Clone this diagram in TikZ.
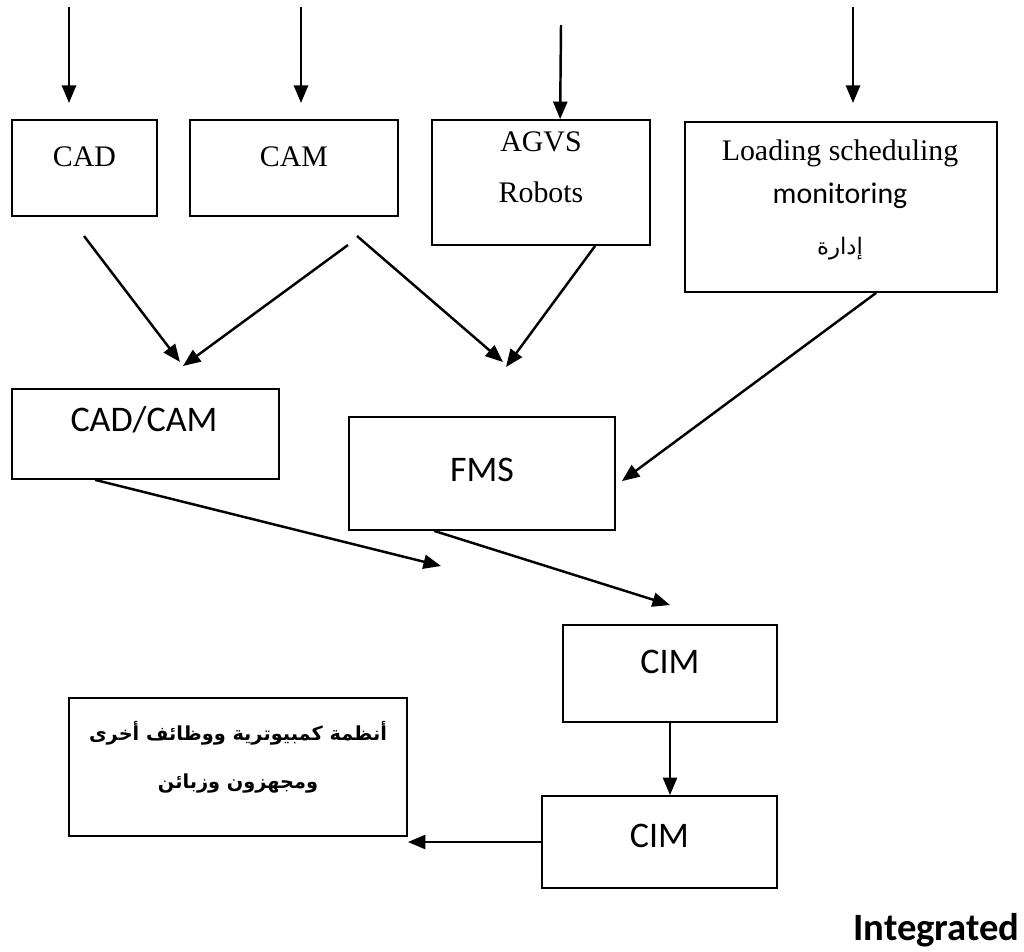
\documentclass[tikz,border=0pt]{standalone}
\usepackage{fontspec}
\setmainfont{Liberation Serif}
\newfontfamily\calfont{Carlito}
\newfontfamily\arabicfont[Script=Arabic]{DejaVu Sans}
\TeXXeTstate=1
\usetikzlibrary{arrows.meta,calc}
\begin{document}
\begin{tikzpicture}[x=0.02cm,y=-0.02cm,
  box/.style={draw, line width=1pt, inner sep=0pt},
  arr/.style={line width=1.4pt, -{Triangle[length=10pt,width=8pt]}},
  tm/.style={font=\fontsize{17}{20}\selectfont, inner sep=0pt},
  cb/.style={font=\calfont\fontsize{20.5}{24}\selectfont, inner sep=0pt},
  ar/.style={font=\arabicfont\bfseries\fontsize{11}{14}\selectfont, inner sep=0pt}]
\useasboundingbox (0,0) rectangle (1024,951);
% boxes
\node[box, minimum width=145*0.02cm, minimum height=96*0.02cm] (cad) at (84.5,168) {};
\node[box, minimum width=208*0.02cm, minimum height=96*0.02cm] (cam) at (294,168) {};
\node[box, minimum width=218*0.02cm, minimum height=125*0.02cm] (agvs) at (541,182.5) {};
\node[box, minimum width=312*0.02cm, minimum height=170*0.02cm] (load) at (841,207) {};
\node[box, minimum width=267*0.02cm, minimum height=90*0.02cm] (cadcam) at (145.5,434) {};
\node[box, minimum width=266*0.02cm, minimum height=113*0.02cm] (fms) at (482,473.5) {};
\node[box, minimum width=214*0.02cm, minimum height=97*0.02cm] (cim1) at (670,673.5) {};
\node[box, minimum width=235*0.02cm, minimum height=92*0.02cm] (cim2) at (659.5,842) {};
\node[box, minimum width=338*0.02cm, minimum height=138*0.02cm] (arab) at (238,767) {};
% texts
\node[tm] (tcad) at (84.5,157) {CAD};
\node[tm] (tcam) at (294,157) {CAM};
\node[tm] (tagvs) at (541,142) {AGVS};
\node[tm] (trob) at (541,192) {Robots};
\node[tm] (tload) at (840,153) {Loading scheduling};
\node[inner sep=0pt, font=\calfont\fontsize{17}{20}\selectfont] (tmon) at (840,196) {monitoring};
\node[inner sep=0pt, font=\arabicfont\fontsize{13}{16}\selectfont] (tidara) at (840,249) {\beginR إدارة\endR};
\node[cb] (tcadcam) at (144,420) {CAD/CAM};
\node[cb] (tfms) at (482,470) {FMS};
\node[cb] (tcim1) at (670,662) {CIM};
\node[cb] (tcim2) at (659.5,836) {CIM};
\node[ar] (tar1) at (238,733) {\beginR أنظمة كمبيوترية ووظائف أخرى\endR};
\node[ar] (tar2) at (238,784) {\beginR ومجهزون وزبائن\endR};
\node[inner sep=0pt, font=\calfont\bfseries\fontsize{22}{26}\selectfont, anchor=east] (tint) at (1020,930) {Integrated};
% free ends
\coordinate (s1) at (69,7);   \coordinate (e1) at (69,103);
\coordinate (s2) at (301,7);  \coordinate (e2) at (301,103);
\coordinate (s3) at (561,25);
\coordinate (s4) at (853,7);  \coordinate (e4) at (853,103);
\coordinate (m1s) at (84,236);  \coordinate (m1e) at (180,362);
\coordinate (m2s) at (348,245); \coordinate (m2e) at (183,366);
\coordinate (m3s) at (357,236); \coordinate (m3e) at (503,362);
\coordinate (m4e) at (506,367);
\coordinate (m6e) at (441,566);
\coordinate (m7e) at (670,605);
% connectors
\draw[arr] (s1) -- (e1);
\draw[arr] (s2) -- (e2);
\draw[arr] (s3) -- ($(agvs.north west)+(129,0)$);
\draw[arr] (s4) -- (e4);
\draw[arr] (m1s) -- (m1e);
\draw[arr] (m2s) -- (m2e);
\draw[arr] (m3s) -- (m3e);
\draw[arr] ($(agvs.south west)+(164,0)$) -- (m4e);
\draw[arr] ($(load.south west)+(192,0)$) -- ($(fms.north east)+(6,65)$);
\draw[arr] ($(cadcam.south west)+(84,0)$) -- (m6e);
\draw[arr] ($(fms.south west)+(86,0)$) -- (m7e);
\draw[arr] (cim1.south) -- (cim1.south |- cim2.north);
\draw[arr] (cim2.west) -- (cim2.west -| arab.east);
\end{tikzpicture}
\end{document}
